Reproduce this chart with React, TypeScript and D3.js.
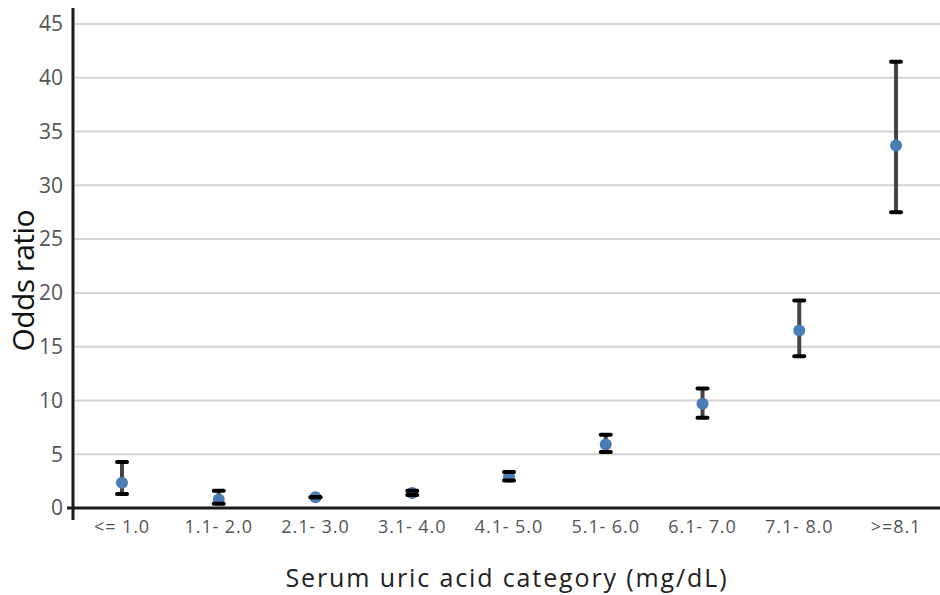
import React from "react";
import * as d3 from "d3";

const categories = ["<= 1.0", "1.1- 2.0", "2.1- 3.0", "3.1- 4.0", "4.1- 5.0", "5.1- 6.0", "6.1- 7.0", "7.1- 8.0", ">=8.1"];
const oddsRatio = [2.35, 0.8, 1.0, 1.4, 2.9, 5.9, 9.7, 16.5, 33.7];
const lowerCI = [1.3, 0.4, 1.0, 1.2, 2.55, 5.2, 8.4, 14.1, 27.5];
const upperCI = [4.27, 1.6, 1.0, 1.6, 3.35, 6.8, 11.1, 19.3, 41.5];
const yTicks = [0, 5, 10, 15, 20, 25, 30, 35, 40, 45];

const W = 940, H = 595;
const FONT = "'Open Sans', sans-serif";

export default function App() {
  const x = d3.scaleBand<string>().domain(categories).range([73.6, 944.4]);
  const y = d3.scaleLinear().domain([0, 45]).range([508, 24]);
  const data = categories.map((c, i) => ({ c, v: oddsRatio[i], lo: lowerCI[i], hi: upperCI[i] }));
  const cx = (c: string) => (x(c) as number) + x.bandwidth() / 2;
  return (
    <svg width={W} height={H} style={{ position: "absolute", left: 0, top: 0, background: "#fff" }}>
      {yTicks.map((t) => (
        <g key={t}>
          {t > 0 && <line x1={75} x2={W} y1={y(t)} y2={y(t)} stroke="#d3d3d3" strokeWidth={2} />}
          <text x={63} y={y(t)} dy="0.35em" textAnchor="end" fontFamily={FONT} fontSize={21} fill="#555">{t}</text>
        </g>
      ))}
      <line x1={67} x2={W} y1={y(0)} y2={y(0)} stroke="#1a1a1a" strokeWidth={3} />
      <line x1={73} x2={73} y1={8} y2={520} stroke="#1a1a1a" strokeWidth={3} />
      {categories.map((c) => (
        <text key={c} x={cx(c)} y={533} textAnchor="middle" fontFamily={FONT} fontSize={18} letterSpacing={0.9} fill="#555">{c}</text>
      ))}
      {data.map((d) => (
        <g key={d.c}>
          {d.hi - d.lo > 0.01 && (
            <line x1={cx(d.c)} x2={cx(d.c)} y1={y(d.hi)} y2={y(d.lo)} stroke="#444" strokeWidth={4} />
          )}
          <circle cx={cx(d.c)} cy={y(d.v)} r={6} fill="#4a7cb5" />
          {[d.hi, d.lo].map((b, j) => (
            <line key={j} x1={cx(d.c) - 5} x2={cx(d.c) + 5} y1={y(b)} y2={y(b)} stroke="#000" strokeWidth={4} strokeLinecap="round" />
          ))}
        </g>
      ))}
      <text transform={`translate(34,280.5) rotate(-90)`} textAnchor="middle" fontFamily={FONT} fontSize={30} textLength={142} lengthAdjust="spacing" fill="#111">Odds ratio</text>
      <text x={506} y={587} textAnchor="middle" fontFamily={FONT} fontSize={25} textLength={441} lengthAdjust="spacing" fill="#222">Serum uric acid category (mg/dL)</text>
    </svg>
  );
}
